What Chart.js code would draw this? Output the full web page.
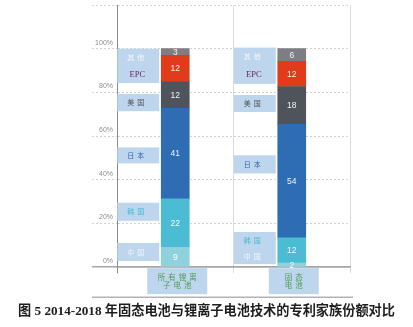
<!DOCTYPE html>
<html>
<head>
<meta charset="utf-8">
<script src="https://cdn.jsdelivr.net/npm/chart.js@4.4.0/dist/chart.umd.min.js"></script>
<style>
html, body { margin: 0; padding: 0; background: #fff; }
#wrap { width: 413px; height: 327px; }
</style>
</head>
<body>
<div id="wrap"><canvas id="myChart"></canvas></div>
<script>
// categories (two lines each, as printed under the bars)
categories = [['所有锂离', '子电池'], ['固态', '电池']]
series_names = ['中国', '韩国', '日本', '美国', 'EPC', '其他']

// patent family share, per series, [lithium-ion, solid state]
china = [9, 2]
korea = [22, 12]
japan = [41, 54]
usa = [12, 18]
epc = [12, 12]
other = [3, 6]

y_ticks = [0, 20, 40, 60, 80, 100]
caption = '图 5 2014-2018 年固态电池与锂离子电池技术的专利家族份额对比'

raw = [china, korea, japan, usa, epc, other]
bar_colors = ['#8fd1dc', '#4bbcd3', '#2e6cb4', '#4f545c', '#e03b1b', '#7c7e83']
name_colors = ['#eef4fa', '#3dbcd3', '#3566ae', '#505050', '#6b1f5e', '#f6f6f6']

// each bar is drawn as share of its own column total
totals = categories.map((c, i) => raw.reduce((s, arr) => s + arr[i], 0))

const datasets = series_names.map((name, k) => ({
    label: name,
    data: raw[k].map((v, i) => v / totals[i] * 100),
    backgroundColor: bar_colors[k],
    borderWidth: 0,
    barThickness: 28
}))

// light blue name tags left of each bar (from / to in % of the y axis)
const tags = [
    [{from: 84.3, to: 100, names: ['其他', 'EPC']},
     {from: 71.4, to: 79.3, names: ['美国']},
     {from: 47.5, to: 54.8, names: ['日本']},
     {from: 21.2, to: 29.5, names: ['韩国']},
     {from: 2.8, to: 11.1, names: ['中国']}],
    [{from: 83.9, to: 100.5, names: ['其他', 'EPC']},
     {from: 71, to: 78.8, names: ['美国']},
     {from: 42.9, to: 51.2, names: ['日本']},
     {from: 1.4, to: 16.1, names: ['韩国', '中国']}]
]

const tagBlue = '#bdd6ee'

const decorations = {
    id: 'decorations',
    afterDatasetsDraw(chart) {
        const ctx = chart.ctx
        const y = chart.scales.y
        const x = chart.scales.x
        const area = chart.chartArea
        ctx.save()

        // values inside the segments
        ctx.textAlign = 'center'
        ctx.textBaseline = 'middle'
        ctx.font = '8.5px "Liberation Sans", sans-serif'
        ctx.fillStyle = 'rgba(255,255,255,0.92)'
        series_names.forEach((n, k) => {
            chart.getDatasetMeta(k).data.forEach((el, i) => {
                ctx.fillText(String(raw[k][i]), el.x, (el.y + el.base) / 2 + 0.5)
            })
        })

        // name tags
        tags.forEach((list, i) => {
            const el = chart.getDatasetMeta(0).data[i]
            const right = el.x - el.width / 2 - 2
            const left = right - 42
            list.forEach(t => {
                const top = y.getPixelForValue(t.to)
                const bot = y.getPixelForValue(t.from)
                ctx.fillStyle = tagBlue
                ctx.fillRect(left, top, right - left, bot - top)
                t.names.forEach((n, j) => {
                    const ty = top + (bot - top) * (j + 0.5) / t.names.length
                    if (n === 'EPC') {
                        ctx.letterSpacing = '0px'
                        ctx.font = '8.5px "Liberation Serif", serif'
                    } else {
                        ctx.letterSpacing = '3px'
                        ctx.font = '7px "Noto Sans CJK SC", sans-serif'
                    }
                    ctx.fillStyle = name_colors[series_names.indexOf(n)]
                    ctx.fillText(n, (left + right) / 2 - 1, ty)
                })
            })
        })

        // category tags under the axis
        ctx.letterSpacing = '3px'
        ctx.font = '7.5px "Noto Sans CJK SC", sans-serif'
        categories.forEach((lines, i) => {
            const cx = x.getPixelForValue(i) + 2
            const tw = Math.max(...lines.map(l => ctx.measureText(l).width))
            const w = Math.max(tw + 18, 50)
            ctx.fillStyle = tagBlue
            ctx.fillRect(cx - w / 2, area.bottom + 1, w, 26)
            ctx.fillStyle = '#4f9b52'
            lines.forEach((l, j) => {
                ctx.fillText(l, cx + 1.5, area.bottom + 10 + j * 8)
            })
        })
        ctx.letterSpacing = '0px'

        // rule under the labels
        ctx.strokeStyle = '#b3b3b3'
        ctx.lineWidth = 1.5
        ctx.beginPath()
        ctx.moveTo(area.left - 25, area.bottom + 30)
        ctx.lineTo(area.right + 3, area.bottom + 30)
        ctx.stroke()
        ctx.restore()
    }
}

const ctx = document.getElementById('myChart').getContext('2d')
const myChart = new Chart(ctx, {
    type: 'bar',
    data: {
        labels: categories,
        datasets: datasets
    },
    plugins: [decorations],
    options: {
        responsive: true,
        maintainAspectRatio: false,
        animation: false,
        layout: { padding: { left: 0, right: 0, top: 5, bottom: 4 } },
        plugins: {
            legend: { display: false },
            tooltip: { enabled: false },
            title: {
                display: true,
                text: caption,
                position: 'bottom',
                color: '#1e1e1e',
                font: { family: '"Liberation Serif", "Noto Sans CJK SC", serif', size: 13.2, weight: 'bold' },
                padding: { top: 30.5, bottom: 3.5 }
            }
        },
        scales: {
            x: {
                stacked: true,
                grid: {
                    offset: true,
                    color: c => c.index === 0 ? '#8a8a8a' : '#dcdcdc',
                    tickLength: 6
                },
                border: { color: '#a6a6a6', width: 1.5 },
                ticks: { display: false }
            },
            y: {
                stacked: true,
                min: 0,
                max: 120,
                afterFit: s => { s.width = 117 },
                afterBuildTicks: s => {
                    s.ticks = y_ticks.concat([120]).map(v => ({ value: v }))
                },
                grid: {
                    color: c => c.tick && c.tick.value === 0 ? '#a6a6a6' : '#d2d2d2',
                    lineWidth: c => c.tick && c.tick.value === 0 ? 1.5 : 1,
                    tickLength: 25,
                    tickBorderDash: c => c.tick && c.tick.value === 0 ? [] : [2, 2]
                },
                border: {
                    color: '#8a8a8a',
                    dash: c => c.tick && c.tick.value === 0 ? [] : [2, 2]
                },
                ticks: {
                    callback: v => v > 100 ? '' : v + '%',
                    color: '#8c8c8c',
                    font: { family: '"Liberation Sans", sans-serif', size: 7 },
                    padding: -21,
                    labelOffset: -6
                }
            },
            // empty axis that keeps the white margin on the right
            yRight: {
                position: 'right',
                afterFit: s => { s.width = 63 },
                grid: { display: false },
                border: { display: false },
                ticks: { display: false }
            }
        }
    }
})
</script>
</body>
</html>
